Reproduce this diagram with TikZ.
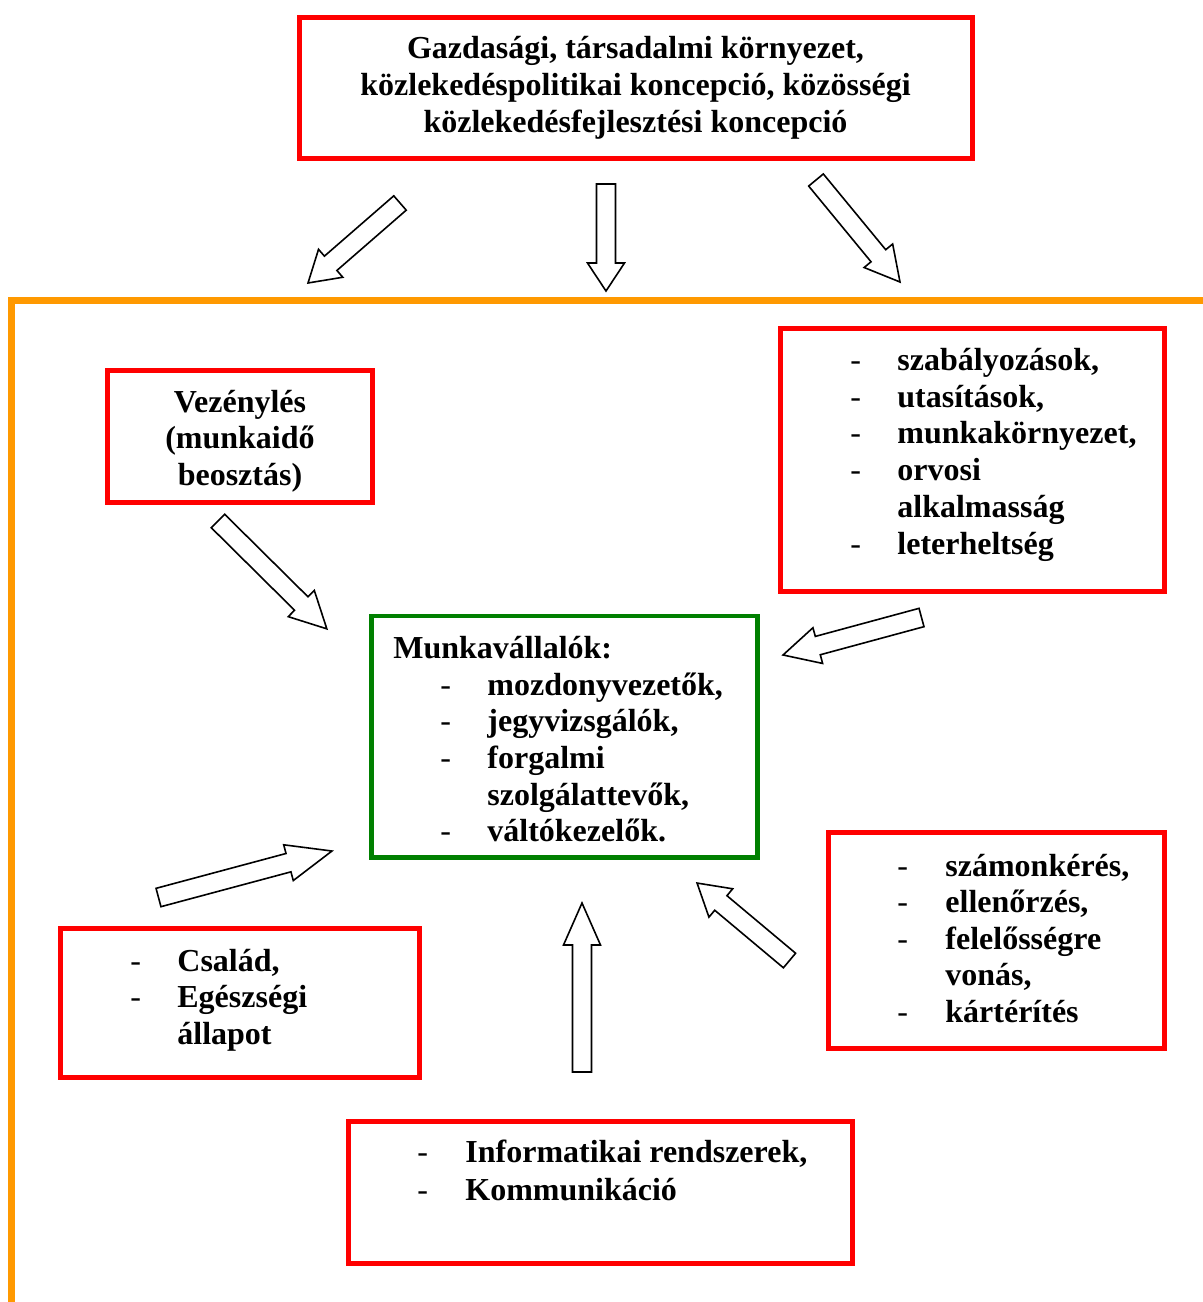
\documentclass[tikz,border=0pt]{standalone}
\usepackage{fontspec}
\setmainfont{Liberation Serif}
\usetikzlibrary{calc, fit}

\definecolor{boxred}{HTML}{FF0000}
\definecolor{boxgreen}{HTML}{008000}
\definecolor{frameorange}{HTML}{FF9900}

\tikzset{
  redbox/.style={draw=boxred, line width=2.5pt, inner sep=0pt},
  greenbox/.style={draw=boxgreen, line width=2.4pt, inner sep=0pt},
  txt/.style={font=\fontsize{16pt}{18.5pt}\selectfont\bfseries, inner sep=0pt, anchor=base west},
  hdr/.style={txt, anchor=base},
  itemdash/.style={font=\fontsize{16pt}{18.5pt}\selectfont, inner sep=0pt, anchor=base west},
  blockline/.style={draw=black, fill=white, line width=0.8pt, line join=miter}
}

% hollow block arrow: tail, tip, head length
\newcommand{\blockarrow}[3]{%
  \draw[blockline] let \p1=($(#2)-(#1)$), \n1={atan2(\y1,\x1)}, \n2={veclen(\x1,\y1)} in
    {[shift={(#1)}, rotate=\n1]
     (0pt,-4.75pt) -- ({\n2-#3},-4.75pt) -- ({\n2-#3},-9.25pt) -- (\n2,0pt)
     -- ({\n2-#3},9.25pt) -- ({\n2-#3},4.75pt) -- (0pt,4.75pt) -- cycle};
}

\begin{document}
\begin{tikzpicture}[x=0.5pt, y=-0.5pt]
\useasboundingbox (0,0) rectangle (1203,1302);

% outer frame
\draw[frameorange, line width=3.5pt] (1215,300) -- (11.5,300) -- (11.5,1315);

% boxes
\node[redbox, fit={(299,17) (972,158)}] (env) {};
\node[redbox, fit={(107.5,370) (372.5,502.5)}] (sched) {};
\node[redbox, fit={(780,328) (1164,591)}] (rules) {};
\node[greenbox, fit={(371.5,616) (757.5,857.5)}] (staff) {};
\node[redbox, fit={(828,832) (1164,1048)}] (control) {};
\node[redbox, fit={(60,928) (419,1077)}] (family) {};
\node[redbox, fit={(348,1121) (852,1263)}] (infosys) {};

% top box
\node[hdr] (env1) at (635.5,58) {Gazdasági, társadalmi környezet,};
\node[hdr] (env2) at (635.5,95) {közlekedéspolitikai koncepció, közösségi};
\node[hdr] (env3) at (635.5,132) {közlekedésfejlesztési koncepció};

% Vezénylés
\node[hdr] (sched1) at (240,412) {Vezénylés};
\node[hdr] (sched2) at (240,448.5) {(munkaidő};
\node[hdr] (sched3) at (240,485) {beosztás)};

% rules box
\node[itemdash] (rd1) at (850,370.5) {-};
\node[itemdash] (rd2) at (850,407.2) {-};
\node[itemdash] (rd3) at (850,443.9) {-};
\node[itemdash] (rd4) at (850,480.6) {-};
\node[itemdash] (rd6) at (850,554) {-};
\node[txt] (rt1) at (897,370.5) {szabályozások,};
\node[txt] (rt2) at (897,407.2) {utasítások,};
\node[txt] (rt3) at (897,443.9) {munkakörnyezet,};
\node[txt] (rt4) at (897,480.6) {orvosi};
\node[txt] (rt5) at (897,517.3) {alkalmasság};
\node[txt] (rt6) at (897,554) {leterheltség};

% staff box
\node[txt] (st0) at (393,658.3) {Munkavállalók:};
\node[itemdash] (sd1) at (440,695) {-};
\node[itemdash] (sd2) at (440,731.7) {-};
\node[itemdash] (sd3) at (440,768.4) {-};
\node[itemdash] (sd5) at (440,841.5) {-};
\node[txt] (st1) at (487,695) {mozdonyvezetők,};
\node[txt] (st2) at (487,731.7) {jegyvizsgálók,};
\node[txt] (st3) at (487,768.4) {forgalmi};
\node[txt] (st4) at (487,805) {szolgálattevők,};
\node[txt] (st5) at (487,841.5) {váltókezelők.};

% control box
\node[itemdash] (cd1) at (897,876) {-};
\node[itemdash] (cd2) at (897,912.5) {-};
\node[itemdash] (cd3) at (897,949) {-};
\node[itemdash] (cd5) at (897,1022) {-};
\node[txt] (ct1) at (945,876) {számonkérés,};
\node[txt] (ct2) at (945,912.5) {ellenőrzés,};
\node[txt] (ct3) at (945,949) {felelősségre};
\node[txt] (ct4) at (945,985.5) {vonás,};
\node[txt] (ct5) at (945,1022) {kártérítés};

% family box
\node[itemdash] (fd1) at (130,971.3) {-};
\node[itemdash] (fd2) at (130,1007.6) {-};
\node[txt] (ft1) at (177,971.3) {Család,};
\node[txt] (ft2) at (177,1007.6) {Egészségi};
\node[txt] (ft3) at (177,1044) {állapot};

% info box
\node[itemdash] (id1) at (417,1162) {-};
\node[itemdash] (id2) at (417,1200) {-};
\node[txt] (it1) at (465,1162) {Informatikai rendszerek,};
\node[txt] (it2) at (465,1200) {Kommunikáció};

% arrow ends
\coordinate (a1) at (400,203);   \coordinate (b1) at (308,283);
\coordinate (a2) at (606,184);   \coordinate (b2) at (606,291);
\coordinate (a3) at (816,180);   \coordinate (b3) at (900,282);
\coordinate (a4) at (218,521);   \coordinate (b4) at (327,629);
\coordinate (a5) at (921.5,617.5); \coordinate (b5) at (783,655);
\coordinate (a6) at (158.5,897.5); \coordinate (b6) at (332,851);
\coordinate (a7) at (582,1072);  \coordinate (b7) at (582,903);
\coordinate (a8) at (789.5,960.5); \coordinate (b8) at (697,883);

\blockarrow{a1}{b1}{15pt}
\blockarrow{a2}{b2}{14pt}
\blockarrow{a3}{b3}{17pt}
\blockarrow{a4}{b4}{18pt}
\blockarrow{a5}{b5}{18pt}
\blockarrow{a6}{b6}{22.5pt}
\blockarrow{a7}{b7}{21pt}
\blockarrow{a8}{b8}{15.5pt}
\end{tikzpicture}
\end{document}
